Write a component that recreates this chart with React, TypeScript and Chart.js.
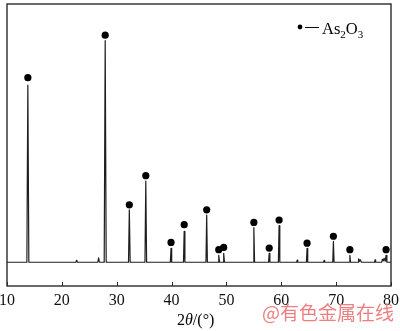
import React, { useEffect, useRef } from "react";
import { Chart, registerables } from "chart.js";

Chart.register(...registerables);

// XRD trace: 2θ (°) and intensity (a.u.)
const twoTheta = [
  10, 13.62, 13.8, 13.98, 22.55, 22.7, 22.85, 26.55, 26.7, 26.85,
  27.72, 27.9, 28.08, 32.15, 32.3, 32.45, 35.15, 35.3, 35.45,
  39.78, 39.9, 40.02, 42.17, 42.3, 42.43, 46.27, 46.4, 46.53,
  48.5, 48.6, 48.75, 49.4, 49.5, 49.65, 54.87, 55.0, 55.13,
  57.68, 57.8, 57.92, 59.47, 59.6, 59.73, 62.8, 62.9, 63.0,
  64.58, 64.7, 64.82, 67.7, 67.8, 67.9, 69.38, 69.5, 69.62,
  72.38, 72.5, 72.62, 74.0, 74.1, 74.25, 74.4, 74.6,
  77.0, 77.1, 77.2, 78.3, 78.45, 78.6, 78.75, 78.95, 79.1, 79.25, 80,
];
const intensity = [
  240, 240, 2030, 240, 240, 260, 240, 240, 285, 240,
  240, 2480, 240, 240, 770, 240, 240, 1060, 240,
  240, 380, 240, 240, 553, 240, 240, 717, 240,
  240, 310, 240, 240, 330, 240, 240, 590, 240,
  240, 330, 240, 240, 610, 240, 240, 262, 240,
  240, 380, 240, 240, 258, 240, 240, 450, 240,
  240, 310, 240, 240, 275, 250, 265, 240,
  240, 265, 240, 240, 270, 255, 280, 250, 310, 240, 240,
];

// As2O3 peak markers
const markerTheta = [13.8, 27.9, 32.3, 35.3, 39.9, 42.3, 46.4, 48.6, 49.5, 55.0, 57.8, 59.6, 64.7, 69.5, 72.5, 79.1];
const markerIntensity = [2105, 2535, 820, 1115, 440, 620, 770, 367, 390, 643, 383, 667, 433, 503, 367, 367];

const xTicks = [10, 20, 30, 40, 50, 60, 70, 80];
const legendLabel = ["As", "2", "O", "3"];
const axisTitle = ["2", "θ", "/(°)"];
const watermark = "@有色金属在线";

const SERIF = "'Liberation Serif', 'Times New Roman', serif";

const decorPlugin = {
  id: "decor",
  afterDraw(chart: any) {
    const { ctx, chartArea } = chart;
    const xs = chart.scales.x;
    const { left, top, right, bottom } = chartArea;
    ctx.save();
    // frame
    ctx.strokeStyle = "#2a2a2a";
    ctx.lineWidth = 1.4;
    ctx.strokeRect(left, top, right - left, bottom - top);
    // inner ticks
    ctx.lineWidth = 1;
    ctx.beginPath();
    for (const t of xTicks) {
      const px = Math.round(xs.getPixelForValue(t)) + 0.5;
      ctx.moveTo(px, bottom);
      ctx.lineTo(px, bottom - 4);
    }
    ctx.stroke();

    // legend
    ctx.fillStyle = "#000";
    ctx.beginPath();
    ctx.arc(300, 27, 2.4, 0, Math.PI * 2);
    ctx.fill();
    ctx.strokeStyle = "#000";
    ctx.lineWidth = 1;
    ctx.beginPath();
    ctx.moveTo(305, 27.5);
    ctx.lineTo(319, 27.5);
    ctx.stroke();
    ctx.textBaseline = "alphabetic";
    ctx.textAlign = "left";
    let lx = 322;
    legendLabel.forEach((s, i) => {
      const sub = i % 2 === 1;
      ctx.font = sub ? `11px ${SERIF}` : `16.5px ${SERIF}`;
      ctx.fillText(s, lx, sub ? 37.5 : 34);
      lx += ctx.measureText(s).width;
    });

    // axis title
    let tx = 177;
    axisTitle.forEach((s, i) => {
      ctx.font = i === 1 ? `italic 16px ${SERIF}` : `16px ${SERIF}`;
      ctx.fillText(s, tx, 324.5);
      tx += ctx.measureText(s).width;
    });

    // watermark
    ctx.font = "19px 'Noto Sans CJK SC', sans-serif";
    ctx.fillStyle = "#ec8080";
    ctx.textBaseline = "middle";
    ctx.fillText(watermark, 262, 312.5);
    ctx.restore();
  },
};

export default function App() {
  const ref = useRef<HTMLCanvasElement>(null);
  useEffect(() => {
    document.body.style.margin = "0";
    const chart = new Chart(ref.current!, {
      type: "scatter",
      data: {
        datasets: [
          {
            data: markerTheta.map((x, i) => ({ x, y: markerIntensity[i] })),
            showLine: false,
            pointRadius: 3.6,
            pointBackgroundColor: "#000",
            pointBorderWidth: 0,
            order: 0,
          },
          {
            data: twoTheta.map((x, i) => ({ x, y: intensity[i] })),
            showLine: true,
            borderColor: "#1e1e1e",
            borderWidth: 1.2,
            borderJoinStyle: "round",
            pointRadius: 0,
            tension: 0,
            order: 1,
          },
        ],
      },
      options: {
        animation: false,
        responsive: false,
        layout: { padding: { left: 7, right: 9, top: 1, bottom: 0 } },
        plugins: { legend: { display: false }, tooltip: { enabled: false } },
        scales: {
          x: {
            type: "linear",
            min: 10,
            max: 80,
            afterBuildTicks: (s: any) => {
              s.ticks = xTicks.map((v) => ({ value: v }));
            },
            ticks: {
              color: "#111",
              padding: 5,
              font: { family: SERIF, size: 16 },
              maxRotation: 0,
            },
            grid: { display: false, drawTicks: false },
            border: { display: false },
            afterFit: (s: any) => {
              s.height = 45;
              s.paddingLeft = 0;
              s.paddingRight = 0;
            },
          },
          y: { display: false, min: 0, max: 2850 },
        },
      },
      plugins: [decorPlugin],
    });
    return () => chart.destroy();
  }, []);
  return (
    <div style={{ position: "absolute", left: 0, top: 0, width: 400, height: 331 }}>
      <canvas ref={ref} width={400} height={331} />
    </div>
  );
}
